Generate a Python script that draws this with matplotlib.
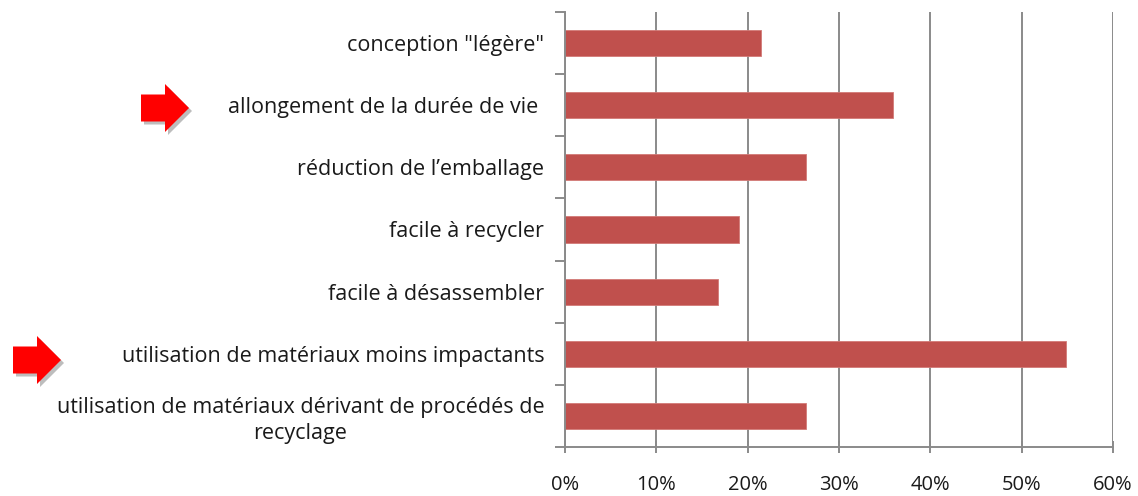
import matplotlib
matplotlib.use("Agg")
import matplotlib.pyplot as plt
from matplotlib.patches import Polygon
from matplotlib.ticker import PercentFormatter, FixedLocator

categories = [
    'conception "légère"',
    'allongement de la durée de vie ',
    'réduction de l’emballage',
    'facile à recycler',
    'facile à désassembler',
    'utilisation de matériaux moins impactants',
    'utilisation de matériaux dérivant de procédés de\nrecyclage',
]
values = [21.5, 35.9, 26.4, 19.1, 16.7, 54.9, 26.4]
xticks = [0, 10, 20, 30, 40, 50, 60]

W, H = 1138, 496
plt.rcParams['font.family'] = ['Open Sans', 'DejaVu Sans']

fig = plt.figure(figsize=(W / 100, H / 100), dpi=100)
fig.patch.set_facecolor('white')
ax = fig.add_axes([565 / W, 1 - 447 / H, (1113 - 565) / W, (447 - 12) / H])

n = len(categories)
ypos = list(range(n))
ax.barh(ypos, values, height=0.42, color='#C0504D', edgecolor='#D27a77', linewidth=0.6, zorder=3)
ax.set_ylim(n - 0.5, -0.5)
ax.set_xlim(0, 60)

gray = '#8A8A8A'
ax.set_xticks(xticks)
ax.xaxis.set_major_formatter(PercentFormatter(decimals=0))
ax.grid(axis='x', color=gray, linewidth=1.4, zorder=1)
ax.set_yticks(ypos)
ax.set_yticklabels(categories, fontsize=15.5, color='#1a1a1a', ha='right',
                   multialignment='center', linespacing=1.3)
ax.yaxis.set_minor_locator(FixedLocator([i - 0.5 for i in range(n + 1)]))
ax.tick_params(axis='y', which='major', length=0, pad=15)
ax.tick_params(axis='y', which='minor', length=7, width=1.4, color=gray, direction='out')
ax.tick_params(axis='x', which='major', length=8, width=1.4, color=gray, direction='inout',
               labelsize=14.5, labelcolor='#1a1a1a', pad=16)

for s in ['top', 'right']:
    ax.spines[s].set_visible(False)
for s in ['left', 'bottom']:
    ax.spines[s].set_color(gray)
    ax.spines[s].set_linewidth(1.4)
    ax.spines[s].set_zorder(4)


def arrow(x0, yc, length=48, shaft_h=27, head_h=48, head_l=24):
    pts = [
        (x0, yc - shaft_h / 2), (x0 + length - head_l, yc - shaft_h / 2),
        (x0 + length - head_l, yc - head_h / 2), (x0 + length, yc),
        (x0 + length - head_l, yc + head_h / 2), (x0 + length - head_l, yc + shaft_h / 2),
        (x0, yc + shaft_h / 2),
    ]
    for dx, dy, col, z in [(3, 3, '#BDBDBD', 5), (0, 0, '#FF0000', 6)]:
        poly = Polygon([((px + dx) / W, 1 - (py + dy) / H) for px, py in pts],
                       closed=True, transform=fig.transFigure, facecolor=col,
                       edgecolor='none', zorder=z)
        fig.patches.append(poly)


arrow(141, 108)
arrow(13, 360)

fig.savefig('out.png', dpi=100, facecolor='white')
